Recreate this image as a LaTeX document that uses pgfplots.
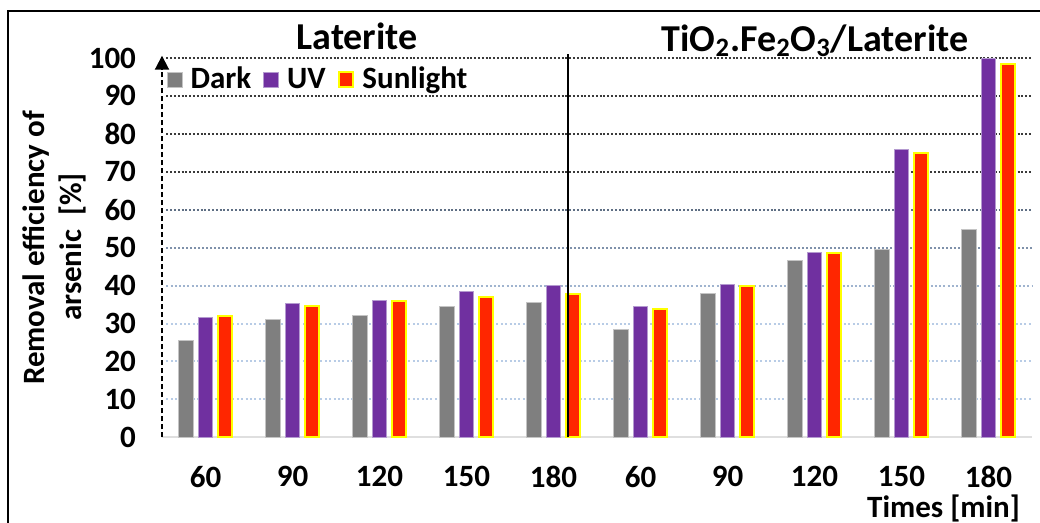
\documentclass[border=0pt]{standalone}
\usepackage{fontspec}
\setmainfont{Carlito}
\usepackage{pgfplots}
\pgfplotsset{compat=1.18}
\usetikzlibrary{arrows.meta}
\definecolor{cdark}{HTML}{7F7F7F}
\definecolor{cdarkb}{HTML}{C4C4C4}
\definecolor{cuv}{HTML}{7030A0}
\definecolor{cuvb}{HTML}{B49AD0}
\definecolor{csun}{HTML}{FF2600}
\definecolor{csunb}{HTML}{FFFF00}
\definecolor{gA}{HTML}{3A3A3A}
\definecolor{gB}{HTML}{5F6F84}
\definecolor{gC}{HTML}{7F91AA}
\definecolor{gD}{HTML}{A0B4CF}
\definecolor{gE}{HTML}{B8CCE6}
\newcommand{\bodyfont}{\fontsize{15.5}{18}\selectfont\bfseries}
\begin{document}
\begin{tikzpicture}[x=1pt,y=1pt]
\begin{axis}[
  at={(81pt,42.85pt)}, anchor=south west,
  scale only axis, width=435pt, height=189.65pt,
  xmin=-0.5, xmax=9.5, ymin=0, ymax=100,
  clip=false,
  axis line style={draw=none},
  tick style={draw=none},
  major tick length=0pt,
  ybar, bar width=7.2pt,
  xtick={0,...,9},
  xticklabels={60,90,120,150,180,60,90,120,150,180},
  ytick={0,10,...,100},
  tick label style={font=\bodyfont},
  /pgf/number format/assume math mode=true,
  yticklabel style={xshift=-9.5pt},
  xticklabel style={yshift=-11pt},
  sq legend/.style={legend image code/.code={\draw[##1] (0pt,-3.7pt) rectangle (7.4pt,3.7pt);}},
  legend columns=3,
  legend style={draw=none, fill=none, at={(0.005,0.943)}, anchor=west, inner sep=0pt,
    font=\bodyfont, nodes={inner sep=0pt},
    /tikz/every odd column/.append style={column sep=4pt},
    /tikz/every even column/.append style={column sep=6pt}},
]
% gridlines
\foreach \v in {70,80,90,100}{
  \edef\tmp{\noexpand\draw[gA, line width=1pt, dash pattern=on 1pt off 0.9pt] (axis cs:-0.45,\v) -- (axis cs:9.5,\v);}\tmp
}
\draw[gB, line width=1pt, dash pattern=on 1pt off 0.9pt] (axis cs:-0.45,60) -- (axis cs:9.5,60);
\draw[gC, line width=1pt, dash pattern=on 1pt off 1pt] (axis cs:-0.45,50) -- (axis cs:9.5,50);
\draw[gD, line width=1pt, dash pattern=on 1pt off 1.1pt] (axis cs:-0.45,40) -- (axis cs:9.5,40);
\foreach \v in {10,20,30}{
  \edef\tmp{\noexpand\draw[gE, line width=1pt, dash pattern=on 1pt off 1.2pt] (axis cs:-0.45,\v) -- (axis cs:9.5,\v);}\tmp
}
\draw[gray!25, line width=1pt] (axis cs:-0.5,0) -- (axis cs:9.5,0);

\addplot[sq legend, fill=cdark, draw=cdarkb, line width=0.5pt, bar shift=-9.75pt] coordinates {
(0,25.5) (1,31.0) (2,32.0) (3,34.4) (4,35.5) (5,28.3) (6,37.9) (7,46.7) (8,49.4) (9,54.9)};
\addlegendentry{Dark}
\addplot[sq legend, fill=cuv, draw=cuvb, line width=0.5pt, bar shift=0pt] coordinates {
(0,31.6) (1,35.4) (2,36.1) (3,38.5) (4,39.9) (5,34.5) (6,40.2) (7,48.7) (8,75.9) (9,99.8)};
\addlegendentry{UV}
\addplot[sq legend, fill=csun, draw=csunb, line width=1pt, bar shift=9.75pt] coordinates {
(0,32.0) (1,34.5) (2,36.0) (3,37.1) (4,37.8) (5,33.9) (6,39.8) (7,48.6) (8,74.9) (9,98.4)};
\addlegendentry{Sunlight}

\draw[black, line width=1pt] (axis cs:4.17,0) -- (axis cs:4.17,101);
\draw[black, line width=1pt, dash pattern=on 2.5pt off 1.5pt, -{Triangle[width=7pt,length=7pt]}] (axis cs:-0.5,0) -- (axis cs:-0.5,100.6);
\end{axis}
% titles and labels
\node[anchor=base, font=\fontsize{19}{22}\selectfont\bfseries] at (178.5pt,236.5pt) {Laterite};
\node[anchor=base, font=\fontsize{19}{22}\selectfont\bfseries] at (407.5pt,235.8pt) {TiO\textsubscript{2}.Fe\textsubscript{2}O\textsubscript{3}/Laterite};
\node[anchor=base, rotate=90, font=\bodyfont] at (22.5pt,137.5pt) {Removal efficiency of};
\node[anchor=base, rotate=90, font=\bodyfont] at (41pt,138pt) {arsenic\ \ [\%]};
\node[anchor=base east, font=\bodyfont] at (513.5pt,2.5pt) {Times [min]};
% outer frame
\draw[black, line width=1pt] (4pt,-20pt) -- (4pt,256pt) -- (540pt,256pt);
\pgfresetboundingbox
\path[use as bounding box] (0pt,0pt) rectangle (520pt,261.5pt);
\end{tikzpicture}
\end{document}
